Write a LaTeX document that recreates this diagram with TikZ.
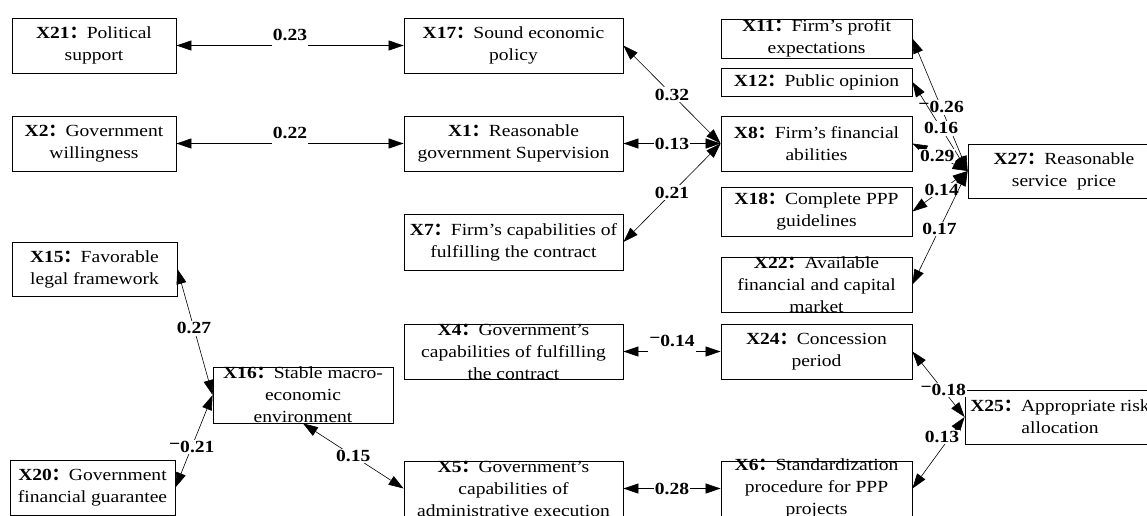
\documentclass[tikz,border=0pt]{standalone}
\usepackage{fontspec}
\setmainfont{Liberation Serif}[FakeStretch=1.15]
\newfontfamily\cjk{Noto Sans CJK SC}
\usetikzlibrary{arrows.meta}
\newcommand{\var}[1]{\textbf{#1{\cjk ：}}}
\newcommand{\mn}{\raisebox{.4ex}{−}}

\begin{document}
\begin{tikzpicture}[x=1pt, y=-1pt,
    box/.style={draw, line width=.8pt, align=center, inner xsep=2pt, inner ysep=0pt, font=\fontsize{17}{22}\selectfont},
    spill/.style={inner ysep=-4.5pt},
    link/.style={{Triangle[length=15pt,width=10pt]}-{Triangle[length=15pt,width=10pt]}, line width=.6pt},
    val/.style={fill=white, inner xsep=1pt, inner ysep=1.5pt, font=\bfseries\fontsize{17}{20}\selectfont},
    over/.style={anchor=base, yshift=5pt, text depth=4pt}]
    \useasboundingbox (0,0) rectangle (1147,515);

    \node[box, minimum width=164pt, minimum height=55pt] (x21) at (94,45.5) {\var{X21}Political\\support};
    \node[box, minimum width=164pt, minimum height=55pt] (x2) at (94,143.5) {\var{X2}Government\\willingness};
    \node[box, minimum width=165pt, minimum height=54pt] (x15) at (94.5,269) {\var{X15}Favorable\\legal framework};
    \node[box, minimum width=165pt, minimum height=55pt] (x20) at (92.5,487.5) {\var{X20}Government\\financial guarantee};

    \node[box, minimum width=219pt, minimum height=55pt] (x17) at (513.5,45.5) {\var{X17}Sound economic\\policy};
    \node[box, minimum width=219pt, minimum height=55pt] (x1) at (513.5,143.5) {\var{X1}Reasonable\\government Supervision};
    \node[box, minimum width=219pt, minimum height=56pt] (x7) at (513.5,242) {\var{X7}Firm’s capabilities of\\fulfilling the contract};
    \node[box, spill, minimum width=180pt, minimum height=56pt] (x16) at (303,395) {\var{X16}Stable macro-\\economic\\environment};
    \node[box, spill, minimum width=219pt, minimum height=55pt] (x4) at (513.5,351.5) {\var{X4}Government’s\\capabilities of fulfilling\\the contract};
    \node[box, spill, minimum width=219pt, minimum height=55pt] (x5) at (513.5,488.5) {\var{X5}Government’s\\capabilities of\\administrative execution};

    \node[box, spill, minimum width=191pt, minimum height=39pt] (x11) at (816.5,38.5) {\var{X11}Firm’s profit\\expectations};
    \node[box, minimum width=191pt, minimum height=28pt] (x12) at (816.5,82) {\var{X12}Public opinion};
    \node[box, minimum width=191pt, minimum height=55pt] (x8) at (816.5,143.5) {\var{X8}Firm’s financial\\abilities};
    \node[box, minimum width=191pt, minimum height=49pt] (x18) at (816.5,211.5) {\var{X18}Complete PPP\\guidelines};
    \node[box, spill, minimum width=191pt, minimum height=55pt] (x22) at (816.5,284.5) {\var{X22}Available\\financial and capital\\market};
    \node[box, minimum width=191pt, minimum height=55pt] (x24) at (816.5,351.5) {\var{X24}Concession\\period};
    \node[box, spill, minimum width=191pt, minimum height=55pt] (x6) at (816.5,488.5) {\var{X6}Standardization\\procedure for PPP\\projects};

    \node[box, minimum width=192pt, minimum height=54pt] (x27) at (1064,171) {\var{X27}Reasonable\\service\ \ price};
    \node[box, minimum width=190pt, minimum height=54pt] (x25) at (1060,417) {\var{X25}Appropriate risk\\allocation};

    \draw[link] (x21) -- node[val, over] {0.23} (x17);
    \draw[link] (x2) -- node[val, over] {0.22} (x1);
    \draw[link] (x17.east) -- node[val] {0.32} (x8.west);
    \draw[link] (x1) -- node[val] {0.13} (x8);
    \draw[link] (x7.east) -- node[val] {0.21} (x8.west);

    \draw[link] (x11.east) -- node[val, pos=.52] {\mn0.26} (x27.west);
    \draw[link] (x12.east) -- node[val, pos=.52] {0.16} (x27.west);
    \draw[link] (x8.east) -- node[val, pos=.45] {0.29} (x27.west);
    \draw[link] (x18.east) -- node[val, pos=.53] {0.14} (x27.west);
    \draw[link] (x22.east) -- node[val, pos=.49] {0.17} (x27.west);

    \draw[link] (x4) -- node[val, over] {\mn0.14} (x24);
    \draw[link] (x5) -- node[val] {0.28} (x6);
    \draw[link] (x24.east) -- node[val, pos=.59] {\mn0.18} (x25.west);
    \draw[link] (x6.east) -- node[val, pos=.72, xshift=-8pt] {0.13} (x25.west);

    \draw[link] (x15.east) -- node[val, pos=.47] {0.27} (x16.west);
    \draw[link] (x20.east) -- node[val, pos=.44] {\mn0.21} (x16.west);
    \draw[link] (x16.south) -- node[val] {0.15} (x5.west);
\end{tikzpicture}
\end{document}
